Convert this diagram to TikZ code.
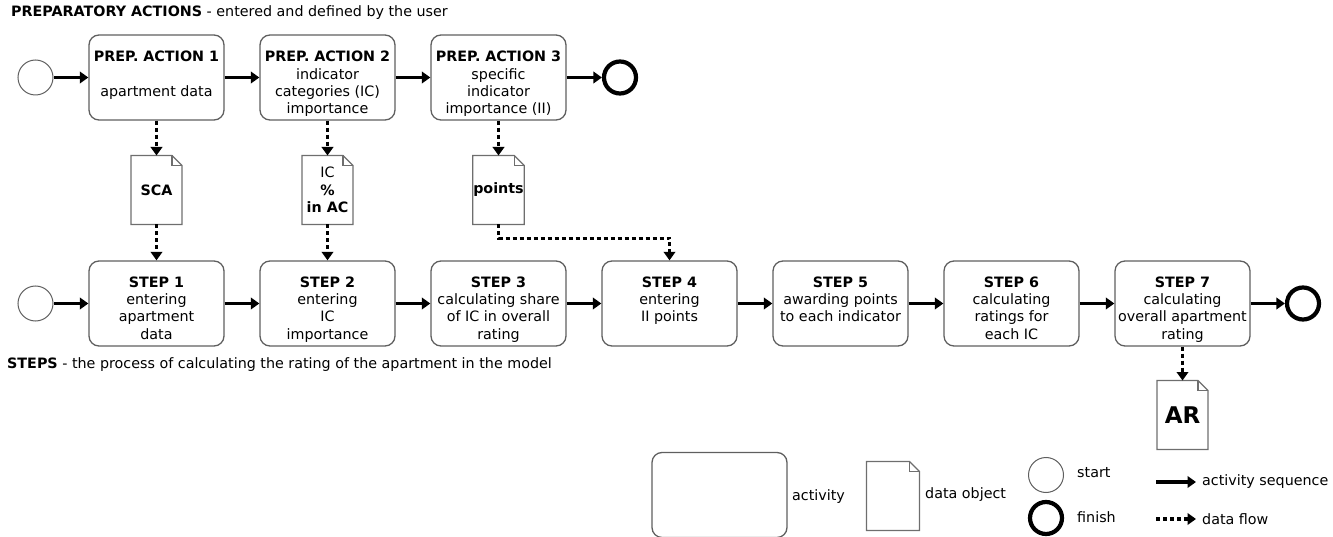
\documentclass[tikz,border=0pt]{standalone}
\usepackage{fontspec}
\setmainfont{DejaVu Sans}
\usetikzlibrary{arrows.meta}
\definecolor{boxgray}{RGB}{95,95,95}
\definecolor{docgray}{RGB}{110,110,110}
\newcommand\dfont{\fontsize{14.3pt}{17.4pt}\selectfont}
\tikzset{
  box/.style={draw=boxgray, line width=1.3pt, rounded corners=10pt, minimum width=135pt, minimum height=85pt, inner sep=0pt},
  btxt/.style={anchor=north, align=center, inner sep=0pt, font=\dfont},
  plain/.style={anchor=west, inner sep=0pt, font=\dfont},
  seq/.style={line width=3.8pt, -{Triangle[length=8.5pt,width=11.5pt]}},
  flow/.style={line width=3.8pt, dash pattern=on 4pt off 3pt, -{Triangle[length=8.5pt,width=11.5pt]}},
  startc/.style={circle, draw=boxgray, line width=1pt, minimum size=35pt, inner sep=0pt},
  endc/.style={circle, draw=black, line width=4.2pt, minimum size=32pt, inner sep=0pt},
  doc/.style={minimum width=50pt, minimum height=68pt, inner sep=0pt, outer sep=0.5pt, align=center, font=\dfont},
  docline/.style={draw=docgray, line width=1.1pt, line join=miter},
}
\newcommand\drawdoc[1]{%
  \draw[docline] (#1.north west) -- ([xshift=-10pt]#1.north east) -- ([yshift=-10pt]#1.north east) -- (#1.south east) -- (#1.south west) -- cycle;
  \draw[docline] ([xshift=-10pt]#1.north east) -- ([xshift=-10pt,yshift=-10pt]#1.north east) -- ([yshift=-10pt]#1.north east);}
\begin{document}
\begin{tikzpicture}[x=1pt,y=-1pt]
\useasboundingbox (0,0) rectangle (1333,537);
% headings
\node[plain] (h1) at (11,13) {\textbf{PREPARATORY ACTIONS} - entered and defined by the user};
\node[plain] (h2) at (7,365) {\textbf{STEPS} - the process of calculating the rating of the apartment in the model};
% top row
\node[startc] (st1) at (35.5,77.5) {};
\node[box] (pa1) at (156.5,77.5) {};
\node[box] (pa2) at (327.5,77.5) {};
\node[box] (pa3) at (498.5,77.5) {};
\node[endc] (en1) at (620,77.5) {};
\node[btxt] (pa1t) at ([yshift=-16.5pt]pa1.north) {\textbf{PREP. ACTION 1}\\[17.4pt]apartment data};
\node[btxt] (pa2t) at ([yshift=-16.5pt]pa2.north) {\textbf{PREP. ACTION 2}\\indicator\\categories (IC)\\importance};
\node[btxt] (pa3t) at ([yshift=-16.5pt]pa3.north) {\textbf{PREP. ACTION 3}\\specific\\indicator\\importance (II)};
% bottom row
\node[startc] (st2) at (35.5,303.5) {};
\node[box] (s1) at (156.5,303.5) {};
\node[box] (s2) at (327.5,303.5) {};
\node[box] (s3) at (498.5,303.5) {};
\node[box] (s4) at (669.5,303.5) {};
\node[box] (s5) at (840.5,303.5) {};
\node[box] (s6) at (1011.5,303.5) {};
\node[box] (s7) at (1182.5,303.5) {};
\node[endc] (en2) at (1303,303.5) {};
\node[btxt] (s1t) at ([yshift=-16pt]s1.north) {\textbf{STEP 1}\\entering\\apartment\\data};
\node[btxt] (s2t) at ([yshift=-16pt]s2.north) {\textbf{STEP 2}\\entering\\IC\\importance};
\node[btxt] (s3t) at ([yshift=-16pt]s3.north) {\textbf{STEP 3}\\calculating share\\of IC in overall\\rating};
\node[btxt] (s4t) at ([yshift=-16pt]s4.north) {\textbf{STEP 4}\\entering\\II points};
\node[btxt] (s5t) at ([yshift=-16pt]s5.north) {\textbf{STEP 5}\\awarding points\\to each indicator};
\node[btxt] (s6t) at ([yshift=-16pt]s6.north) {\textbf{STEP 6}\\calculating\\ratings for\\each IC};
\node[btxt] (s7t) at ([yshift=-16pt]s7.north) {\textbf{STEP 7}\\calculating\\overall apartment\\rating};
% documents
\node[doc] (d1) at (156.5,190) {\textbf{SCA}};
\node[doc] (d2) at (327.5,190) {IC\\\textbf{\%}\\\textbf{in AC}};
\node[doc] (d3) at (498.5,190) {\textbf{points}};
\node[doc] (ar) at (1182.5,415) {\fontsize{23pt}{26pt}\selectfont\textbf{AR}};
\drawdoc{d1}\drawdoc{d2}\drawdoc{d3}\drawdoc{ar}
% sequence arrows
\draw[seq] (st1) -- (pa1);
\draw[seq] (pa1) -- (pa2);
\draw[seq] (pa2) -- (pa3);
\draw[seq] (pa3) -- (en1);
\draw[seq] (st2) -- (s1);
\draw[seq] (s1) -- (s2);
\draw[seq] (s2) -- (s3);
\draw[seq] (s3) -- (s4);
\draw[seq] (s4) -- (s5);
\draw[seq] (s5) -- (s6);
\draw[seq] (s6) -- (s7);
\draw[seq] (s7) -- (en2);
% data flows
\draw[flow] (pa1) -- (d1);
\draw[flow] (d1) -- (s1);
\draw[flow] (pa2) -- (d2);
\draw[flow] (d2) -- (s2);
\draw[flow] (pa3) -- (d3);
\draw[flow] (d3.south) -- ++(0,14) -| (s4.north);
\draw[flow] (s7) -- (ar);
% legend
\node[box] (lact) at (719.5,495) {};
\node[plain] (lactt) at (792,497) {activity};
\node[doc, minimum width=52pt] (ldoc) at (893,496) {};
\drawdoc{ldoc}
\node[plain] (ldoct) at (925,495) {data object};
\node[startc] (lst) at (1046,475) {};
\node[plain] (lstt) at (1077,473) {start};
\node[endc] (lfin) at (1046,518) {};
\node[plain] (lfint) at (1077,517) {finish};
\coordinate (la1) at (1156,482);
\coordinate (la2) at (1196,482);
\draw[seq] (la1) -- (la2);
\node[plain] (lat) at (1202,482) {activity sequence};
\coordinate (lf1) at (1156,519);
\coordinate (lf2) at (1196,519);
\draw[flow] (lf1) -- (lf2);
\node[plain] (lft) at (1202,519) {data flow};
\end{tikzpicture}
\end{document}
